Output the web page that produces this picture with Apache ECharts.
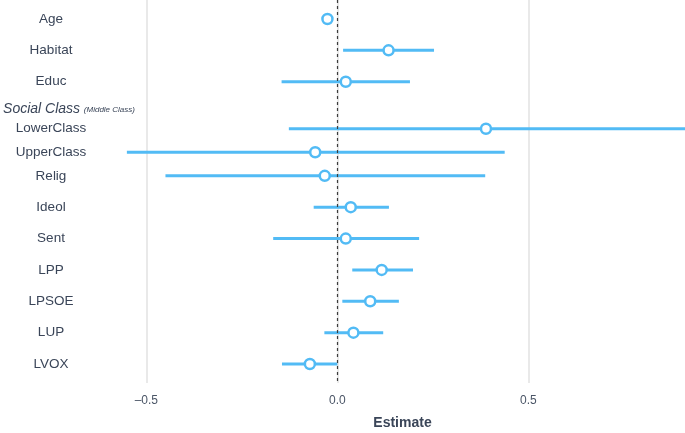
<!DOCTYPE html>
<html>
<head>
<meta charset="utf-8">
<script src="https://cdn.jsdelivr.net/npm/echarts@6/dist/echarts.min.js"></script>
<style>
  html, body { margin: 0; padding: 0; background: #fff; }
  #chart { width: 685px; height: 433px; }
</style>
</head>
<body>
<div id="chart"></div>
<script>
// model terms, top to bottom
const terms = ['Age', 'Habitat', 'Educ', 'LowerClass', 'UpperClass', 'Relig', 'Ideol', 'Sent', 'LPP', 'LPSOE', 'LUP', 'LVOX'];
const estimate = [-0.026, 0.134, 0.022, 0.389, -0.058, -0.033, 0.035, 0.022, 0.116, 0.086, 0.042, -0.072];
const lower = [-0.034, 0.015, -0.146, -0.127, -0.551, -0.450, -0.062, -0.168, 0.039, 0.013, -0.034, -0.145];
const upper = [-0.018, 0.253, 0.190, 0.950, 0.438, 0.387, 0.135, 0.214, 0.198, 0.161, 0.120, 0.000];
// y-axis rows incl. the group header, and the gap (quarter rows) above each one
const rowLabels = ['Age', 'Habitat', 'Educ', 'Social Class', 'LowerClass', 'UpperClass', 'Relig', 'Ideol', 'Sent', 'LPP', 'LPSOE', 'LUP', 'LVOX'];
const rowGaps = [0, 4, 4, 3, 3, 3, 3, 4, 4, 4, 4, 4, 4];
const groupHeader = 'Social Class';
const groupRef = '(Middle Class)';
const xTicks = [-0.5, 0, 0.5];
const refValue = 0;

const blue = '#52bbf5';
const textColor = '#3a4558';

// row slot of each label
const rowSlot = {};
let acc = 0;
rowLabels.forEach((r, i) => {
  acc += rowGaps[i];
  rowSlot[r] = acc;
});
const slotName = {};
Object.keys(rowSlot).forEach((k) => { slotName[rowSlot[k]] = k; });
const labelSlots = rowLabels.map((r) => rowSlot[r]);
const seriesData = terms.map((t, i) => [estimate[i], lower[i], upper[i], rowSlot[t]]);

const chart = echarts.init(document.getElementById('chart'), null, { renderer: 'canvas' });

const option = {
  animation: false,
  grid: { left: 120, right: 0, top: 0, bottom: 50, containLabel: false, outerBoundsMode: 'none' },
  xAxis: {
    type: 'value',
    min: -0.569,
    max: 0.91,
    name: 'Estimate',
    nameLocation: 'middle',
    nameGap: 33,
    nameTextStyle: { color: textColor, fontSize: 14, fontWeight: 'bold', fontFamily: 'Liberation Sans' },
    axisLine: { show: false },
    axisTick: { show: false, customValues: xTicks },
    axisLabel: {
      customValues: xTicks,
      margin: 12,
      color: '#4a5566',
      fontSize: 12,
      fontFamily: 'Liberation Sans',
      formatter: (v) => (v < 0 ? '\u2013' : '') + Math.abs(v).toFixed(1),
    },
    splitLine: { show: true, lineStyle: { color: '#e2e2e2', width: 1.5 } },
  },
  yAxis: {
    type: 'value',
    inverse: true,
    min: -2.42,
    max: 46.42,
    axisLine: { show: false },
    axisTick: { show: false },
    splitLine: { show: false },
    axisLabel: {
      customValues: labelSlots,
      align: 'center',
      margin: 69,
      color: textColor,
      fontSize: 13.5,
      fontFamily: 'Liberation Sans',
      formatter: (v) => {
        const name = slotName[Math.round(v)];
        if (name === groupHeader) {
          return '{a|' + groupHeader + '} {b|' + groupRef + '}';
        }
        return name;
      },
      rich: {
        a: { fontStyle: 'italic', fontSize: 14, color: textColor, fontFamily: 'Liberation Sans', padding: [8, 0, 0, 36] },
        b: { fontStyle: 'italic', fontSize: 8, color: textColor, fontFamily: 'Liberation Sans', padding: [10, 0, 0, 0] },
      },
    },
  },
  series: [
    {
      type: 'custom',
      clip: true,
      encode: { x: [0, 1, 2], y: 3 },
      data: seriesData,
      renderItem: (params, api) => {
        const row = api.value(3);
        const p = api.coord([api.value(0), row]);
        const a = api.coord([api.value(1), row]);
        const b = api.coord([api.value(2), row]);
        return {
          type: 'group',
          children: [
            {
              type: 'line',
              shape: { x1: a[0], y1: a[1], x2: b[0], y2: b[1] },
              style: { stroke: blue, lineWidth: 3 },
            },
            {
              type: 'circle',
              shape: { cx: p[0], cy: p[1], r: 5 },
              style: { fill: '#fff', stroke: blue, lineWidth: 2.5 },
            },
          ],
        };
      },
      z: 2,
    },
    {
      type: 'line',
      data: [],
      z: 3,
      markLine: {
        silent: true,
        symbol: 'none',
        label: { show: false },
        lineStyle: { type: [3, 3], color: '#3c3c3c', width: 1.2 },
        data: [{ xAxis: refValue }],
      },
    },
  ],
};

chart.setOption(option);
</script>
</body>
</html>
